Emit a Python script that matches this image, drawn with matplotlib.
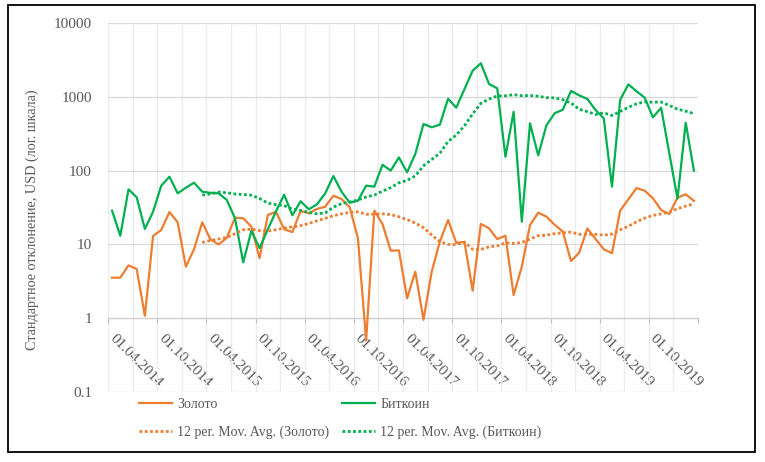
import numpy as np
import pandas as pd
import matplotlib
matplotlib.use("Agg")
import matplotlib.pyplot as plt
from matplotlib.ticker import FixedLocator, FixedFormatter, NullLocator
from matplotlib.patches import Rectangle
from matplotlib.transforms import ScaledTranslation

plt.rcParams['font.family'] = ['Liberation Serif', 'DejaVu Serif']

# monthly data, 04.2014 .. 03.2020 (72 months)
gold = [3.54, 3.54, 5.2, 4.64, 1.08, 13, 15.7, 27.5, 19.9, 4.99, 8.6, 19.9,
        11.7, 10, 12.3, 23, 22.6, 17.4, 6.5, 25, 27.7, 16, 14.7, 28.4,
        26.4, 30.2, 32.4, 45.7, 41.2, 31.8, 12.1, 0.5, 28.6, 18.9, 8.2, 8.3,
        1.86, 4.27, 0.95, 4.27, 10.9, 21.4, 10.5, 10.8, 2.36, 18.9, 16.5, 11.8,
        13.1, 2.06, 4.99, 18.3, 26.9, 23.8, 18.5, 14.9, 5.96, 7.7, 16.5, 11.8,
        8.6, 7.6, 28.6, 40.8, 58, 53.4, 42.2, 29.3, 25.8, 43, 47.7, 39]
bitcoin = [28.6, 13.1, 55.7, 43.5, 16.2, 27.7, 62.5, 82.7, 49.2, 58.6, 68.5, 51.8,
           50, 49.2, 40, 22.6, 5.7, 15.3, 8.9, 16, 28, 47.2, 24.8, 38.4,
           29.9, 34.9, 49, 84.5, 51.8, 36.7, 39, 62.5, 60.6, 120, 100, 151,
           94.8, 168, 428, 386, 420, 942, 711, 1270, 2259, 2845, 1490, 1303,
           154, 628, 20.3, 437, 161, 410, 598, 668, 1199, 1047, 934, 662,
           511, 60.5, 905, 1475, 1186, 972, 527, 711, 171, 41.6, 446, 100]
tick_labels = ['01.04.2014', '01.10.2014', '01.04.2015', '01.10.2015',
               '01.04.2016', '01.10.2016', '01.04.2017', '01.10.2017',
               '01.04.2018', '01.10.2018', '01.04.2019', '01.10.2019', '']
y_ticks = [0.1, 1, 10, 100, 1000, 10000]
y_tick_labels = ['0.1', '1', '10', '100', '1000', '10000']
series_names = ['Золото', 'Биткоин']
ma_names = ['12 per. Mov. Avg. (Золото)', '12 per. Mov. Avg. (Биткоин)']

ORANGE = '#ED7D31'
GREEN = '#00B050'
TXT = '#595959'

W, H = 765, 462
fig = plt.figure(figsize=(W / 100, H / 100), dpi=100)
ax = fig.add_axes([108 / W, 1 - 392 / H, 590 / W, 369 / H])

n = len(gold)
x = np.arange(n) + 0.5
gma = pd.Series(gold).rolling(12).mean()
bma = pd.Series(bitcoin).rolling(12).mean()

h1, = ax.plot(x, gold, color=ORANGE, lw=1.6, zorder=3)
h2, = ax.plot(x, bitcoin, color=GREEN, lw=1.6, zorder=3)
h3, = ax.plot(x, gma, color=ORANGE, lw=2.0, ls=(0, (1, 0.9)), zorder=4)
h4, = ax.plot(x, bma, color=GREEN, lw=2.0, ls=(0, (1, 0.9)), zorder=4)

ax.set_yscale('log')
ax.set_ylim(0.1, 10000)
ax.set_xlim(0, n)

ax.yaxis.set_major_locator(FixedLocator(y_ticks))
ax.yaxis.set_major_formatter(FixedFormatter(y_tick_labels))
ax.yaxis.set_minor_locator(NullLocator())
ax.tick_params(axis='y', length=0, pad=11.5, labelsize=11, labelcolor=TXT)

ax.xaxis.set_major_locator(FixedLocator(np.arange(0, n + 1, 6)))
ax.xaxis.set_major_formatter(FixedFormatter(tick_labels))
ax.xaxis.set_minor_locator(FixedLocator(np.arange(3, n, 6)))
ax.tick_params(axis='x', which='major', length=3.6, width=0.8, color='#bfbfbf',
               direction='out', labelsize=11, labelcolor=TXT, pad=2)
ax.tick_params(axis='x', which='minor', length=0)

ax.grid(axis='y', which='major', color='#d9d9d9', lw=0.9, zorder=0)
ax.grid(axis='x', which='both', color='#ebebeb', lw=0.9, zorder=0)
ax.set_axisbelow(True)

for s in ['top', 'right', 'left']:
    ax.spines[s].set_visible(False)
ax.spines['bottom'].set_position(('data', 1))
ax.spines['bottom'].set_color('#cfcfcf')
ax.spines['bottom'].set_linewidth(0.9)

off = ScaledTranslation(8 / 100, -6 / 100, fig.dpi_scale_trans)
for lab in ax.get_xticklabels():
    lab.set_rotation(-45)
    lab.set_ha('left')
    lab.set_va('top')
    lab.set_rotation_mode('anchor')
    lab.set_transform(lab.get_transform() + off)

fig.text(32 / W, 1 - 220 / H, 'Стандартное отклонение, USD (лог. шкала)',
         rotation=90, ha='center', va='center', fontsize=10.2, color=TXT)

leg = ax.legend([h1, h3, h2, h4],
                [series_names[0], ma_names[0], series_names[1], ma_names[1]],
                ncol=2, loc='center', bbox_to_anchor=(340.5 / W, 1 - 418.5 / H),
                bbox_transform=fig.transFigure, frameon=False, fontsize=10,
                handlelength=2.37, handletextpad=0.36, columnspacing=0.94,
                labelspacing=1.05, borderpad=0, labelcolor=TXT)

fig.add_artist(Rectangle((8 / W, 1 - 452 / H), (755 - 8) / W, (452 - 5) / H,
                         transform=fig.transFigure, fill=False,
                         ec='black', lw=1.3))

fig.savefig('out.png', dpi=100, facecolor='white')
